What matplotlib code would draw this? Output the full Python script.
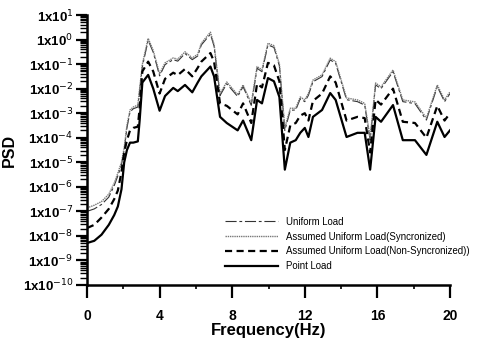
import numpy as np
import matplotlib
matplotlib.use("Agg")
import matplotlib.pyplot as plt
from matplotlib.ticker import LogLocator, FixedLocator, NullFormatter, FuncFormatter

plt.rcParams['font.family'] = ['Liberation Sans', 'DejaVu Sans']

freq = [0, 0.4, 0.8, 1.2, 1.5, 1.7, 1.9, 2.05, 2.2, 2.37, 2.55, 2.8, 2.9, 3.05, 3.37,
        3.65, 4.0, 4.3, 4.75, 5.0, 5.4, 5.8, 6.1, 6.3, 6.8, 7.0, 7.33, 7.7, 8.3, 8.6,
        9.05, 9.37, 9.64, 9.97, 10.3, 10.6, 10.9, 11.2, 11.5, 11.75, 12.0, 12.2, 12.45,
        12.95, 13.4, 13.7, 14.3, 14.9, 15.3, 15.6, 15.9, 16.2, 16.86, 17.4, 18.07, 18.7,
        19.3, 19.7, 20]

# log10(PSD)
point_log = [-8.29, -8.2, -7.95, -7.55, -7.15, -6.8, -6.1, -5.0, -4.5, -4.2, -4.2, -4.15, -3.3, -1.75, -1.44,
             -2.0, -2.9, -2.3, -1.97, -2.1, -1.85, -2.15, -1.75, -1.5, -1.1, -1.5, -3.15, -3.4, -3.7, -3.3,
             -4.1, -2.46, -2.6, -1.57, -1.7, -2.34, -5.3, -4.2, -4.1, -3.8, -3.6, -3.97, -3.15,
             -2.87, -2.18, -2.46, -3.97, -3.8, -3.8, -5.3, -3.15, -3.35, -2.67, -4.1, -4.1, -4.7,
             -3.35, -3.97, -3.7]

sync_log = [-6.86, -6.75, -6.6, -6.3, -5.85, -5.44, -5.0, -4.4, -3.5, -2.87, -2.75, -2.67, -2.0, -1.0, 0.05,
            -0.45, -1.4, -0.95, -0.75, -0.8, -0.5, -0.75, -0.6, -0.15, 0.3, -0.2, -2.2, -1.73, -2.25, -1.85,
            -2.6, -1.1, -1.24, -0.15, -0.25, -1.0, -3.6, -2.8, -2.8, -2.34, -2.46, -2.2, -1.65,
            -1.44, -0.76, -0.9, -2.38, -2.46, -2.6, -4.0, -1.77, -1.93, -1.24, -2.46, -2.54, -3.2,
            -1.85, -2.46, -2.13]

uniform_log = [-7.0, -6.9, -6.72, -6.42, -5.95, -5.55, -5.1, -4.5, -3.6, -2.95, -2.82, -2.75, -2.1, -1.1, -0.03,
               -0.52, -1.48, -1.02, -0.82, -0.88, -0.57, -0.82, -0.67, -0.22, 0.22, -0.27, -2.28, -1.8, -2.32, -1.92,
               -2.68, -1.17, -1.31, -0.22, -0.32, -1.07, -3.7, -2.88, -2.87, -2.41, -2.53, -2.27, -1.72,
               -1.51, -0.83, -0.97, -2.45, -2.53, -2.67, -4.1, -1.85, -2.0, -1.31, -2.53, -2.61, -3.28,
               -1.92, -2.53, -2.2]

nonsync_log = [-7.68, -7.55, -7.25, -6.9, -6.5, -6.15, -5.4, -4.6, -4.1, -3.7, -3.6, -3.55, -2.8, -1.3, -0.9,
               -1.3, -2.2, -1.6, -1.35, -1.45, -1.2, -1.5, -1.15, -0.9, -0.55, -0.9, -2.6, -2.7, -3.05, -2.6,
               -3.4, -1.8, -1.95, -0.95, -1.05, -1.7, -4.5, -3.5, -3.4, -3.1, -3.0, -3.3, -2.5,
               -2.2, -1.5, -1.75, -3.3, -3.15, -3.2, -4.6, -2.45, -2.65, -2.0, -3.35, -3.4, -4.0,
               -2.7, -3.3, -3.0]

labels = ["Uniform Load", "Assumed Uniform Load(Syncronized)",
          "Assumed Uniform Load(Non-Syncronized))", "Point Load"]
xticks_major = [0, 4, 8, 12, 16, 20]

W, H = 478, 349
fig = plt.figure(figsize=(W / 100, H / 100), dpi=100)
ax = fig.add_axes([87 / W, 1 - 285 / H, (450 - 87) / W, (285 - 15) / H])

f = np.array(freq)
ax.plot(f, 10 ** np.array(uniform_log), color='#333333', lw=0.8,
        linestyle=(0, (10, 2.5, 2.5, 2.5)), label=labels[0])
ax.plot(f, 10 ** np.array(sync_log), color='#777777', lw=1.0,
        linestyle=(0, (1, 0.6)), label=labels[1])
ax.plot(f, 10 ** np.array(nonsync_log), color='black', lw=1.6,
        linestyle=(0, (3.2, 2.0)), label=labels[2])
ax.plot(f, 10 ** np.array(point_log), color='black', lw=1.6, label=labels[3])

ax.set_yscale('log')
ax.set_ylim(1e-10, 1e1)
ax.set_xlim(0, 20)

ax.spines['top'].set_visible(False)
ax.spines['right'].set_visible(False)
ax.spines['left'].set_linewidth(1.8)
ax.spines['bottom'].set_linewidth(1.8)

ax.yaxis.set_major_locator(LogLocator(base=10, numticks=20))
ax.yaxis.set_minor_locator(LogLocator(base=10, subs=np.arange(2, 10), numticks=200))
ax.yaxis.set_minor_formatter(NullFormatter())
ax.yaxis.set_major_formatter(FuncFormatter(lambda v, p: r"1x10$^{%d}$" % int(round(np.log10(v)))))

ax.xaxis.set_major_locator(FixedLocator(xticks_major))
ax.xaxis.set_minor_locator(FixedLocator([2, 6, 10, 14, 18]))

ax.tick_params(axis='y', which='major', direction='out', length=8, width=1.6, pad=2, labelsize=9.5)
ax.tick_params(axis='y', which='minor', direction='out', length=5, width=1.0)
ax.tick_params(axis='x', which='major', direction='out', length=9, width=1.6, pad=8, labelsize=10)
ax.tick_params(axis='x', which='minor', direction='out', length=3, width=1.2)
for t in ax.get_yticklabels() + ax.get_xticklabels():
    t.set_fontweight('bold')

ax.set_xlabel("Frequency(Hz)", fontsize=12, fontweight='bold', labelpad=0)
ax.set_ylabel("PSD", fontsize=11.5, fontweight='bold', labelpad=4)

leg = ax.legend(loc='upper left', bbox_to_anchor=(220 / W, 1 - 212 / H),
                bbox_transform=fig.transFigure, frameon=False, fontsize=6.9,
                handlelength=5.6, handletextpad=0.8, labelspacing=0.5, borderpad=0)

fig.savefig("out.png", dpi=100)
